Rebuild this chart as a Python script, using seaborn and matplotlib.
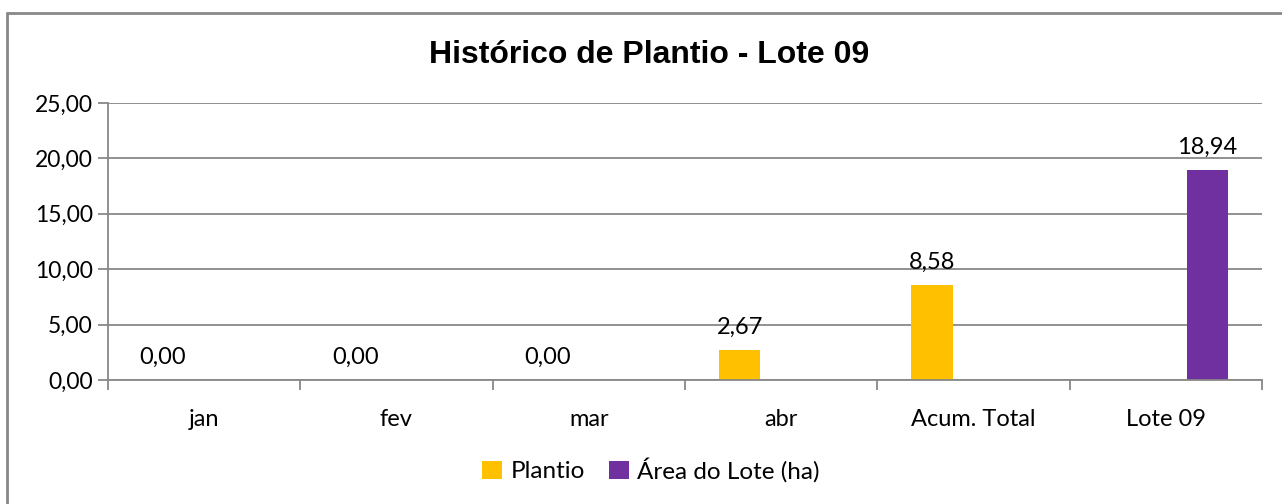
import numpy as np
import pandas as pd
import matplotlib
matplotlib.use("Agg")
import matplotlib.pyplot as plt
from matplotlib.lines import Line2D
from matplotlib.patches import Patch
import seaborn as sns

# Data
categories = ["jan", "fev", "mar", "abr", "Acum. Total", "Lote 09"]
plantio = [0.00, 0.00, 0.00, 2.67, 8.58, np.nan]
area_lote = [np.nan, np.nan, np.nan, np.nan, np.nan, 18.94]
series_names = ["Plantio", "Área do Lote (ha)"]
series_colors = ["#FFC000", "#7030A0"]
yticks = [0, 5, 10, 15, 20, 25]

df = pd.DataFrame({
    "categoria": categories * 2,
    "serie": [series_names[0]] * len(categories) + [series_names[1]] * len(categories),
    "valor": plantio + area_lote,
})

sns.set_theme(style="white")
plt.rcParams["font.family"] = ["Lato", "DejaVu Sans"]
plt.rcParams["text.color"] = "black"
plt.rcParams["xtick.labelcolor"] = "black"
plt.rcParams["ytick.labelcolor"] = "black"

FS = 17

fig = plt.figure(figsize=(12.82, 5.04), dpi=100)
ax = fig.add_axes([108 / 1282, 1 - 380 / 504, (1262 - 108) / 1282, (380 - 103) / 504])

sns.barplot(data=df, x="categoria", y="valor", hue="serie", order=categories,
            hue_order=series_names, palette=series_colors, width=0.86, gap=0.5,
            dodge=True, legend=False, ax=ax, saturation=1, linewidth=0, errorbar=None)

# Value labels above each bar
for cont in ax.containers:
    labels = [f"{b.get_height():.2f}".replace(".", ",") for b in cont]
    ax.bar_label(cont, labels=labels, padding=9, fontsize=FS, color="black")

grid_c = "#888888"
ax.set_ylim(0, 25)
ax.set_xlim(-0.5, len(categories) - 0.5)
ax.set_yticks(yticks)
ax.set_yticklabels([f"{v:.2f}".replace(".", ",") for v in yticks], fontsize=FS - 0.5)
ax.yaxis.grid(True, color=grid_c, linewidth=1.3)
ax.set_axisbelow(True)
ax.set_xlabel("")
ax.set_ylabel("")
ax.tick_params(axis="x", which="major", length=0, pad=21, labelsize=FS)
ax.set_xticks(np.arange(-0.5, len(categories), 1.0), minor=True)
ax.tick_params(axis="x", which="minor", length=7, width=1.3, color=grid_c, direction="out", bottom=True)
ax.tick_params(axis="y", length=7, width=1.3, color=grid_c, left=True, pad=4)
for s in ["top", "right"]:
    ax.spines[s].set_visible(False)
for s in ["left", "bottom"]:
    ax.spines[s].set_color(grid_c)
    ax.spines[s].set_linewidth(1.3)

fig.text(649 / 1282, 1 - 55 / 504, "Histórico de Plantio - Lote 09", ha="center", va="center",
         fontsize=23, fontweight="bold", color="black",
         family=["Liberation Sans", "DejaVu Sans"])

handles = [Patch(facecolor=c, edgecolor="none") for c in series_colors]
fig.legend(handles, series_names, loc="center", bbox_to_anchor=(651 / 1282, 1 - 470 / 504),
           ncol=2, frameon=False, fontsize=FS + 0.5, handlelength=0.8, handleheight=0.8,
           handletextpad=0.35, columnspacing=1.0)

# Chart frame
fig.add_artist(Line2D([7 / 1282, 1], [1 - 13 / 504, 1 - 13 / 504], color=grid_c, linewidth=2,
                      transform=fig.transFigure))
fig.add_artist(Line2D([7 / 1282, 7 / 1282], [0, 1 - 13 / 504], color=grid_c, linewidth=2,
                      transform=fig.transFigure))

fig.savefig("out.png", dpi=100, facecolor="white")
